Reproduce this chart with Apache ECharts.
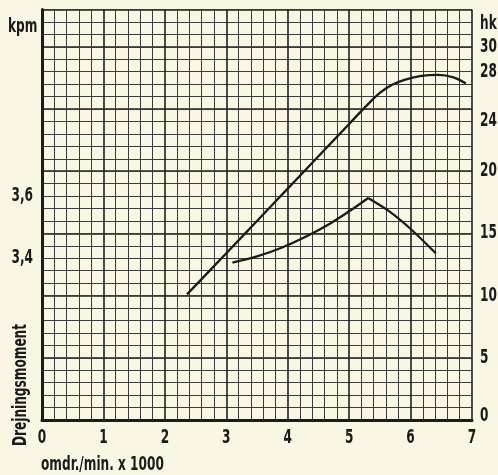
<!DOCTYPE html>
<html><head><meta charset="utf-8">
<script src="https://cdn.jsdelivr.net/npm/echarts@6/dist/echarts.min.js"></script>
<style>html,body{margin:0;padding:0;background:#f9f6e3;}#c{width:498px;height:475px;}</style>
</head><body><div id="c"></div>
<script>
// ---- data ----
const rpmTicks = [0, 1, 2, 3, 4, 5, 6, 7];           // omdr./min x 1000
const hkTicks = [0, 5, 10, 15, 20, 24, 28, 30];      // right axis labels (hk)
const kpmTicks = [3.4, 3.6];                         // left axis labels (kpm)
// power curve: [rpm x1000, hk]
const powerCurve = [[2.36,10.1],[3.0,13.4],[3.5,16.0],[4.0,18.6],[4.5,21.2],[5.0,23.8],[5.3,25.35],[5.5,26.3],[5.7,26.95],[5.9,27.35],[6.15,27.65],[6.45,27.75],[6.7,27.55],[6.9,27.05]];
// torque curve: [rpm x1000, kpm] (rising part and falling part meet at the sharp peak)
const torqueRise = [[3.10,3.386],[3.5,3.406],[3.9,3.434],[4.3,3.470],[4.7,3.513],[5.0,3.551],[5.31,3.594]];
const torqueFall = [[5.31,3.594],[5.66,3.550],[6.02,3.491],[6.41,3.416]];

const F = '"Liberation Sans Narrow","DejaVu Sans Condensed","Arial Narrow",sans-serif';
const INK = '#1b1b1b';
const FONT = 'bold 19px ' + F;
const SX = 0.71;   // horizontal squeeze for the condensed lettering

const chart = echarts.init(document.getElementById('c'), null, {renderer: 'canvas'});
chart.setOption({
  backgroundColor: '#f9f6e3',
  animation: false,
  grid: {left: 42, right: 26, top: 9.5, bottom: 55, show: false, containLabel: false, outerBoundsMode: 'none'},
  xAxis: [{
    type: 'value', min: 0, max: 7, interval: 1,
    axisLine: {show: true, onZero: false, lineStyle: {color: INK, width: 3}},
    axisTick: {show: false},
    axisLabel: {show: false},
    splitLine: {show: true, lineStyle: {color: '#202020', width: 1.6}},
    minorTick: {show: false, splitNumber: 5},
    minorSplitLine: {show: true, lineStyle: {color: '#3c3c3c', width: 1}}
  }],
  yAxis: [{
    type: 'value', position: 'left', min: 2.88, max: 4.2,
    axisLine: {show: true, onZero: false, lineStyle: {color: INK, width: 3}},
    axisTick: {show: false},
    axisLabel: {show: false},
    splitLine: {show: false}
  }, {
    type: 'value', position: 'right', min: 0, max: 33, interval: 5,
    axisLine: {show: false},
    axisTick: {show: false},
    axisLabel: {show: false},
    splitLine: {show: true, lineStyle: {color: '#202020', width: 1.6}}
  }, {
    type: 'value', position: 'right', min: 0, max: 33, interval: 1,
    axisLine: {show: false}, axisTick: {show: false}, axisLabel: {show: false},
    splitLine: {show: true, lineStyle: {color: '#3c3c3c', width: 1}}
  }],
  series: [{
    type: 'line', yAxisIndex: 1, data: powerCurve, smooth: 0.35, showSymbol: false,
    lineStyle: {color: INK, width: 2.3}, z: 5
  }, {
    type: 'line', yAxisIndex: 0, data: torqueRise, smooth: 0.4, showSymbol: false,
    lineStyle: {color: INK, width: 2.3}, z: 5
  }, {
    type: 'line', yAxisIndex: 0, data: torqueFall, smooth: 0.3, showSymbol: false,
    lineStyle: {color: INK, width: 2.3}, z: 5
  }]
});

// tick labels and titles as condensed text, positioned through the axes' own scales
function txt(text, x, y, align, extra) {
  return Object.assign({type: 'text', x: x, y: y, scaleX: SX, silent: true,
    style: {text: text, font: FONT, fill: INK, align: align, verticalAlign: 'middle'}}, extra || {});
}
const px = v => chart.convertToPixel({xAxisIndex: 0}, v);
const pyHk = v => chart.convertToPixel({yAxisIndex: 1}, v);
const pyKpm = v => chart.convertToPixel({yAxisIndex: 0}, v);
const x0 = px(0), x7 = px(7), yBottom = pyHk(0), yTop = pyHk(33);
const g = [];
rpmTicks.forEach(v => g.push(txt(String(v), px(v), yBottom + 18, 'center')));
hkTicks.forEach(v => g.push(txt(String(v), x7 + 8, pyHk(v) + (v === 0 ? -4 : 0), 'left')));
kpmTicks.forEach(v => g.push(txt(v.toFixed(1).replace('.', ','), x0 - 9, pyKpm(v), 'right')));
g.push(txt('kpm', x0 - 34, yTop + 18, 'left'));
g.push(txt('hk', x7 + 8, yTop + 15, 'left'));
g.push(txt('omdr./min. x 1000', x0 - 1, yBottom + 45, 'left'));
g.push(txt('Drejningsmoment', 21, yBottom - 35, 'center', {rotation: Math.PI / 2}));
chart.setOption({graphic: g});
</script></body></html>
